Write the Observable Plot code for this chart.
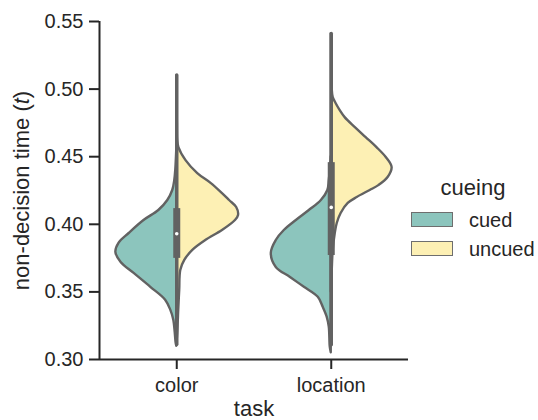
<!DOCTYPE html>
<html>
<head>
<meta charset="utf-8">
<script src="https://cdn.jsdelivr.net/npm/d3@7"></script>
<script src="https://cdn.jsdelivr.net/npm/@observablehq/plot@0.6"></script>
<style>
  body { margin: 0; background: #fff; font-family: "Liberation Sans", Arial, sans-serif; color: #262626; }
  #wrap { position: relative; width: 538px; height: 420px; }
  #wrap svg { position: absolute; left: 0; top: 0; }
  .lg { position: absolute; line-height: 1; white-space: nowrap; }
  .sw { position: absolute; box-sizing: border-box; border: 1.5px solid #6e6e6e; }
</style>
</head>
<body>
<div id="wrap"></div>
<script>
// ---- data ----
const tasks = ["color", "location"];
const cueing = ["cued", "uncued"];
const cueColors = ["#8cc5bd", "#fdf0b4"];
const yTicks = [0.30, 0.35, 0.40, 0.45, 0.50, 0.55];

// violin half profiles: [value, relative half-width]
const colorCued = [
  [0.455, 0], [0.440, 0.016], [0.4324, 0.032], [0.425, 0.065], [0.4176, 0.145],
  [0.4102, 0.29], [0.4028, 0.53], [0.3932, 0.77], [0.3859, 0.935], [0.3792, 0.985],
  [0.3718, 0.90], [0.3637, 0.69], [0.3534, 0.42], [0.3439, 0.18], [0.3365, 0.097],
  [0.3291, 0.048], [0.3195, 0.024], [0.3121, 0.01], [0.310, 0]
];
const colorUncued = [
  [0.51, 0], [0.475, 0.01], [0.4619, 0.016], [0.4567, 0.035], [0.4471, 0.15],
  [0.4375, 0.34], [0.4301, 0.56], [0.4227, 0.74], [0.4176, 0.855], [0.4124, 0.97],
  [0.4065, 1.0], [0.4028, 0.95], [0.3954, 0.74], [0.388, 0.47], [0.3807, 0.26],
  [0.3733, 0.13], [0.3659, 0.065], [0.3511, 0.048], [0.3365, 0.032], [0.3195, 0.016], [0.31, 0]
];
const locationCued = [
  [0.45, 0], [0.4398, 0.016], [0.4324, 0.032], [0.425, 0.055], [0.4176, 0.16],
  [0.4102, 0.355], [0.4028, 0.565], [0.3954, 0.76], [0.388, 0.89], [0.3785, 0.97],
  [0.3681, 0.89], [0.3607, 0.66], [0.3534, 0.435], [0.346, 0.21], [0.3386, 0.13],
  [0.3312, 0.065], [0.3239, 0.032], [0.3091, 0.016], [0.305, 0]
];
const locationUncued = [
  [0.541, 0], [0.52, 0.008], [0.50, 0.016], [0.4937, 0.032], [0.4892, 0.08],
  [0.4841, 0.145], [0.4789, 0.225], [0.4715, 0.39], [0.4641, 0.565], [0.4567, 0.74],
  [0.4494, 0.89], [0.442, 0.985], [0.4346, 0.92], [0.4286, 0.77], [0.425, 0.63],
  [0.4198, 0.42], [0.4154, 0.275], [0.408, 0.16], [0.4006, 0.097], [0.3932, 0.065],
  [0.3807, 0.032], [0.3659, 0.016], [0.35, 0]
];

// inner box statistics per task
const boxLow = [0.311, 0.3106];
const boxQ1 = [0.3748, 0.3769];
const boxMedian = [0.393, 0.4125];
const boxQ3 = [0.4116, 0.4456];
const boxHigh = [0.510, 0.5408];

// ---- build tables ----
const halves = [
  { task: "color", cue: "cued", profile: colorCued },
  { task: "color", cue: "uncued", profile: colorUncued },
  { task: "location", cue: "cued", profile: locationCued },
  { task: "location", cue: "uncued", profile: locationUncued }
];
const side = { cued: -1, uncued: 1 };
const halfWidth = 0.4;
const rows = halves.flatMap(h => h.profile.map(([v, d]) => ({
  task: h.task, cue: h.cue, v, d, key: h.task + "-" + h.cue
})));
const boxes = tasks.map((t, i) => ({
  task: t, i, low: boxLow[i], q1: boxQ1[i], med: boxMedian[i], q3: boxQ3[i], high: boxHigh[i]
}));

const yLabel = "non-decision time (t)";
const xLabel = "task";

const chart = Plot.plot({
  width: 538,
  height: 420,
  marginLeft: 99,
  marginRight: 130,
  marginTop: 21,
  marginBottom: 61,
  style: { fontFamily: "'Liberation Sans', Arial, sans-serif", fontSize: "20px", color: "#262626", background: "#fff" },
  x: { domain: [-0.5, 1.5] },
  y: { domain: [0.30, 0.55] },
  color: { domain: cueing, range: cueColors },
  marks: [
    Plot.areaX(rows, {
      y: "v",
      x1: d => tasks.indexOf(d.task),
      x2: d => tasks.indexOf(d.task) + side[d.cue] * halfWidth * d.d,
      z: "key",
      fill: "cue",
      stroke: "#626262",
      strokeWidth: 2.4,
      strokeLinejoin: "round",
      curve: "catmull-rom"
    }),
    Plot.ruleX(boxes, { x: "i", y1: "low", y2: "high", stroke: "#626262", strokeWidth: 3.5, strokeLinecap: "round" }),
    Plot.ruleX(boxes, { x: "i", y1: "q1", y2: "q3", stroke: "#626262", strokeWidth: 7 }),
    Plot.dot(boxes, { x: "i", y: "med", r: 1.8, fill: "white" }),
    Plot.ruleX([-0.5], { stroke: "#262626", strokeWidth: 2 }),
    Plot.ruleY([0.30], { stroke: "#262626", strokeWidth: 2 }),
    Plot.axisY({
      ticks: yTicks, tickFormat: ".2f", tickSize: 10, tickPadding: 6, strokeWidth: 2,
      stroke: "#262626", fill: "#262626",
      label: yLabel, labelAnchor: "center", labelOffset: 86, labelArrow: "none"
    }),
    Plot.axisX({
      ticks: [0, 1], tickFormat: i => tasks[i], tickSize: 10, tickPadding: 8, strokeWidth: 2,
      stroke: "#262626", fill: "#262626",
      label: xLabel, labelAnchor: "center", labelOffset: 56, labelArrow: "none"
    })
  ]
});

// axis label styling: larger font, italic t
for (const t of chart.querySelectorAll("text")) {
  if (t.textContent === yLabel) {
    t.setAttribute("font-size", 22);
    t.textContent = "non-decision time (";
    const it = document.createElementNS("http://www.w3.org/2000/svg", "tspan");
    it.setAttribute("font-style", "italic");
    it.textContent = "t";
    t.appendChild(it);
    t.appendChild(document.createTextNode(")"));
  } else if (t.textContent === xLabel) {
    t.setAttribute("font-size", 22);
  }
}

const wrap = document.getElementById("wrap");
wrap.appendChild(chart);

// legend
const title = document.createElement("div");
title.className = "lg";
title.style.cssText = "left:411px;width:124px;top:177px;text-align:center;font-size:22px;";
title.textContent = "cueing";
wrap.appendChild(title);
cueing.forEach((c, i) => {
  const sw = document.createElement("div");
  sw.className = "sw";
  sw.style.cssText = `left:411px;top:${212 + 29 * i}px;width:42px;height:15px;background:${cueColors[i]};`;
  wrap.appendChild(sw);
  const lb = document.createElement("div");
  lb.className = "lg";
  lb.style.cssText = `left:469px;top:${210 + 29 * i}px;font-size:20px;`;
  lb.textContent = c;
  wrap.appendChild(lb);
});
</script>
</body>
</html>
